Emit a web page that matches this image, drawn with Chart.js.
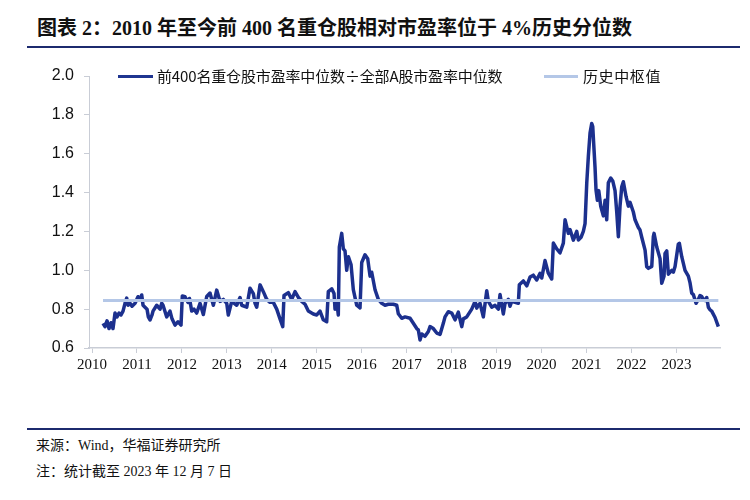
<!DOCTYPE html>
<html>
<head>
<meta charset="utf-8">
<script src="https://cdn.jsdelivr.net/npm/chart.js@4.4.0/dist/chart.umd.min.js"></script>
<style>
html,body{margin:0;padding:0;background:#fff;}
#wrap{position:relative;width:750px;height:500px;overflow:hidden;background:#fff;}
#title{position:absolute;left:37px;top:15px;font:bold 20px "Liberation Serif","Noto Sans CJK SC";color:#111;white-space:nowrap;line-height:26px;}
.rule{position:absolute;left:27px;width:713px;height:2px;background:#1c2a6e;}
#chartBox{position:absolute;left:0;top:0;width:750px;height:380px;}
.legLine{position:absolute;height:3px;}
.legText{position:absolute;font:15px "Noto Sans CJK SC";color:#111;white-space:nowrap;line-height:20px;}
.note{position:absolute;left:36px;font:14px "Liberation Serif","Noto Sans CJK SC";color:#111;white-space:nowrap;line-height:18px;}
</style>
</head>
<body>
<div id="wrap">
  <div id="title">图表 2：2010 年至今前 400 名重仓股相对市盈率位于 4%历史分位数</div>
  <div class="rule" style="top:46px"></div>
  <div id="chartBox"><canvas id="c" width="750" height="380"></canvas></div>
  <div class="legLine" style="left:118px;top:75px;width:35px;background:#1f3590"></div>
  <div class="legText" id="leg1" style="left:157px;top:66px;letter-spacing:-0.15px">前400名重仓股市盈率中位数÷全部A股市盈率中位数</div>
  <div class="legLine" style="left:544px;top:75px;width:34px;background:#b4c7e7"></div>
  <div class="legText" id="leg2" style="left:583px;top:66px;letter-spacing:0.6px">历史中枢值</div>
  <div class="rule" style="top:428px"></div>
  <div class="note" style="top:437px">来源：Wind，华福证券研究所</div>
  <div class="note" style="top:463px">注：统计截至 2023 年 12 月 7 日</div>
</div>
<script>
const seriesName = '前400名重仓股市盈率中位数÷全部A股市盈率中位数';
const medianName = '历史中枢值';
const medianValue = 0.845;
const yearTicks = [2010,2011,2012,2013,2014,2015,2016,2017,2018,2019,2020,2021,2022,2023];
const yTickVals = [0.6,0.8,1.0,1.2,1.4,1.6,1.8,2.0];

const years = [
2010.245,2010.289,2010.334,2010.378,2010.423,2010.467,2010.512,2010.556,2010.601,2010.645,
2010.690,2010.734,2010.772,2010.801,2010.845,2010.890,2010.957,2011.023,2011.068,2011.106,
2011.135,2011.179,2011.224,2011.253,2011.290,2011.335,2011.357,2011.439,2011.513,2011.551,
2011.580,2011.662,2011.735,2011.780,2011.846,2011.913,2011.980,2012.009,2012.069,2012.136,
2012.169,2012.218,2012.269,2012.329,2012.403,2012.476,2012.552,2012.625,2012.699,2012.774,
2012.848,2012.921,2012.997,2013.032,2013.108,2013.219,2013.293,2013.330,2013.442,2013.515,
2013.589,2013.626,2013.664,2013.738,2013.811,2013.887,2013.960,2014.033,2014.109,2014.182,
2014.243,2014.271,2014.367,2014.443,2014.516,2014.590,2014.665,2014.739,2014.812,2014.923,
2014.999,2015.072,2015.146,2015.221,2015.257,2015.333,2015.384,2015.406,2015.444,2015.479,
2015.502,2015.555,2015.591,2015.628,2015.666,2015.702,2015.762,2015.813,2015.889,2015.962,
2016.000,2016.073,2016.133,2016.185,2016.222,2016.296,2016.369,2016.445,2016.518,2016.592,
2016.703,2016.779,2016.814,2016.890,2016.963,2017.075,2017.148,2017.224,2017.259,2017.297,
2017.335,2017.408,2017.482,2017.520,2017.593,2017.669,2017.742,2017.815,2017.853,2017.927,
2018.002,2018.076,2018.149,2018.225,2018.260,2018.336,2018.447,2018.521,2018.558,2018.594,
2018.632,2018.705,2018.781,2018.817,2018.892,2018.966,2019.039,2019.077,2019.150,2019.188,
2019.261,2019.299,2019.337,2019.410,2019.484,2019.506,2019.595,2019.671,2019.744,2019.817,
2019.893,2019.967,2020.004,2020.078,2020.151,2020.227,2020.263,2020.338,2020.412,2020.485,
2020.523,2020.596,2020.634,2020.708,2020.783,2020.819,2020.879,2020.930,2020.968,2021.006,
2021.041,2021.079,2021.117,2021.139,2021.168,2021.190,2021.212,2021.242,2021.273,2021.317,
2021.375,2021.413,2021.450,2021.486,2021.539,2021.584,2021.635,2021.673,2021.709,2021.746,
2021.784,2021.820,2021.880,2021.931,2021.969,2022.042,2022.080,2022.154,2022.191,2022.229,
2022.303,2022.340,2022.376,2022.452,2022.487,2022.503,2022.563,2022.636,2022.674,2022.725,
2022.747,2022.785,2022.821,2022.897,2022.932,2022.970,2023.043,2023.066,2023.119,2023.192,
2023.266,2023.304,2023.341,2023.377,2023.437,2023.488,2023.526,2023.564,2023.599,2023.637,
2023.675,2023.711,2023.749,2023.786,2023.860,2023.933
];

const ratio = [
0.727,0.71,0.74,0.70,0.73,0.70,0.78,0.76,0.78,0.77,
0.79,0.83,0.857,0.82,0.83,0.815,0.83,0.864,0.85,0.873,
0.82,0.81,0.80,0.76,0.744,0.77,0.79,0.82,0.80,0.83,
0.82,0.76,0.79,0.75,0.718,0.735,0.718,0.868,0.864,0.835,
0.855,0.79,0.80,0.78,0.83,0.772,0.865,0.883,0.82,0.898,
0.84,0.85,0.83,0.77,0.84,0.82,0.86,0.82,0.81,0.908,
0.88,0.83,0.81,0.925,0.89,0.85,0.835,0.835,0.80,0.75,
0.71,0.87,0.885,0.85,0.89,0.86,0.84,0.825,0.79,0.775,
0.77,0.79,0.745,0.735,0.89,0.905,0.88,0.80,0.84,0.77,
1.12,1.19,1.11,1.10,1.00,1.07,1.03,0.90,0.82,0.806,
1.04,1.08,1.06,0.97,0.99,0.90,0.85,0.83,0.82,0.825,
0.825,0.82,0.776,0.753,0.76,0.753,0.727,0.70,0.693,0.641,
0.672,0.66,0.685,0.71,0.70,0.677,0.67,0.727,0.76,0.787,
0.78,0.745,0.785,0.71,0.75,0.76,0.80,0.84,0.805,0.82,
0.83,0.76,0.895,0.84,0.81,0.82,0.80,0.875,0.775,0.83,
0.85,0.815,0.84,0.835,0.83,0.925,0.945,0.92,0.965,0.975,
0.95,0.985,0.96,1.05,0.985,0.955,1.14,1.11,1.09,1.14,
1.26,1.19,1.21,1.155,1.20,1.156,1.17,1.20,1.24,1.45,
1.585,1.706,1.756,1.74,1.62,1.53,1.413,1.36,1.41,1.33,
1.28,1.36,1.26,1.45,1.475,1.46,1.41,1.30,1.173,1.33,
1.43,1.456,1.38,1.33,1.35,1.30,1.26,1.22,1.207,1.17,
1.104,1.018,1.01,1.02,1.173,1.19,1.12,1.06,0.933,0.97,
1.087,1.10,0.98,1.00,0.99,1.02,1.135,1.139,1.07,1.00,
0.97,0.935,0.882,0.875,0.83,0.85,0.87,0.865,0.85,0.845,
0.86,0.81,0.796,0.79,0.757,0.71
];

const axisColor = '#c9cdd6';

new Chart(document.getElementById('c'), {
  type: 'line',
  data: {
    datasets: [
      {
        label: seriesName,
        data: years.map((x, i) => ({ x: x, y: ratio[i] })),
        borderColor: '#1c308e',
        backgroundColor: '#1c308e',
        borderWidth: 3.5,
        pointRadius: 0,
        tension: 0,
        borderJoinStyle: 'round',
        order: 1
      },
      {
        label: medianName,
        data: [{ x: years[0], y: medianValue }, { x: years[years.length - 1], y: medianValue }],
        borderColor: '#b4c7e7',
        backgroundColor: '#b4c7e7',
        borderWidth: 3,
        pointRadius: 0,
        order: 0
      }
    ]
  },
  options: {
    responsive: false,
    animation: false,
    layout: { padding: { top: 76, right: 30, left: 0, bottom: 0 } },
    plugins: { legend: { display: false }, tooltip: { enabled: false }, title: { display: false } },
    scales: {
      x: {
        type: 'linear',
        min: 2009.933,
        max: 2023.97,
        afterBuildTicks: s => { s.ticks = yearTicks.map(v => ({ value: v })); },
        afterFit: s => { s.height = 32; },
        grid: { drawOnChartArea: false, drawTicks: true, tickLength: 5, color: axisColor, lineWidth: 1 },
        border: { display: true, color: axisColor, width: 1.5 },
        ticks: {
          autoSkip: false, maxRotation: 0, padding: 3, color: '#111',
          font: { family: 'Liberation Serif', size: 15 },
          callback: v => String(v)
        }
      },
      y: {
        min: 0.6,
        max: 2.0,
        afterBuildTicks: s => { s.ticks = yTickVals.map(v => ({ value: v })); },
        afterFit: s => { s.width = 89; },
        grid: { drawOnChartArea: false, drawTicks: true, tickLength: 5, color: axisColor, lineWidth: 1 },
        border: { display: true, color: axisColor, width: 1 },
        ticks: {
          padding: 10, color: '#111',
          font: { family: 'Liberation Sans', size: 16 },
          callback: v => Number(v).toFixed(1)
        }
      }
    }
  }
});
</script>
</body>
</html>
